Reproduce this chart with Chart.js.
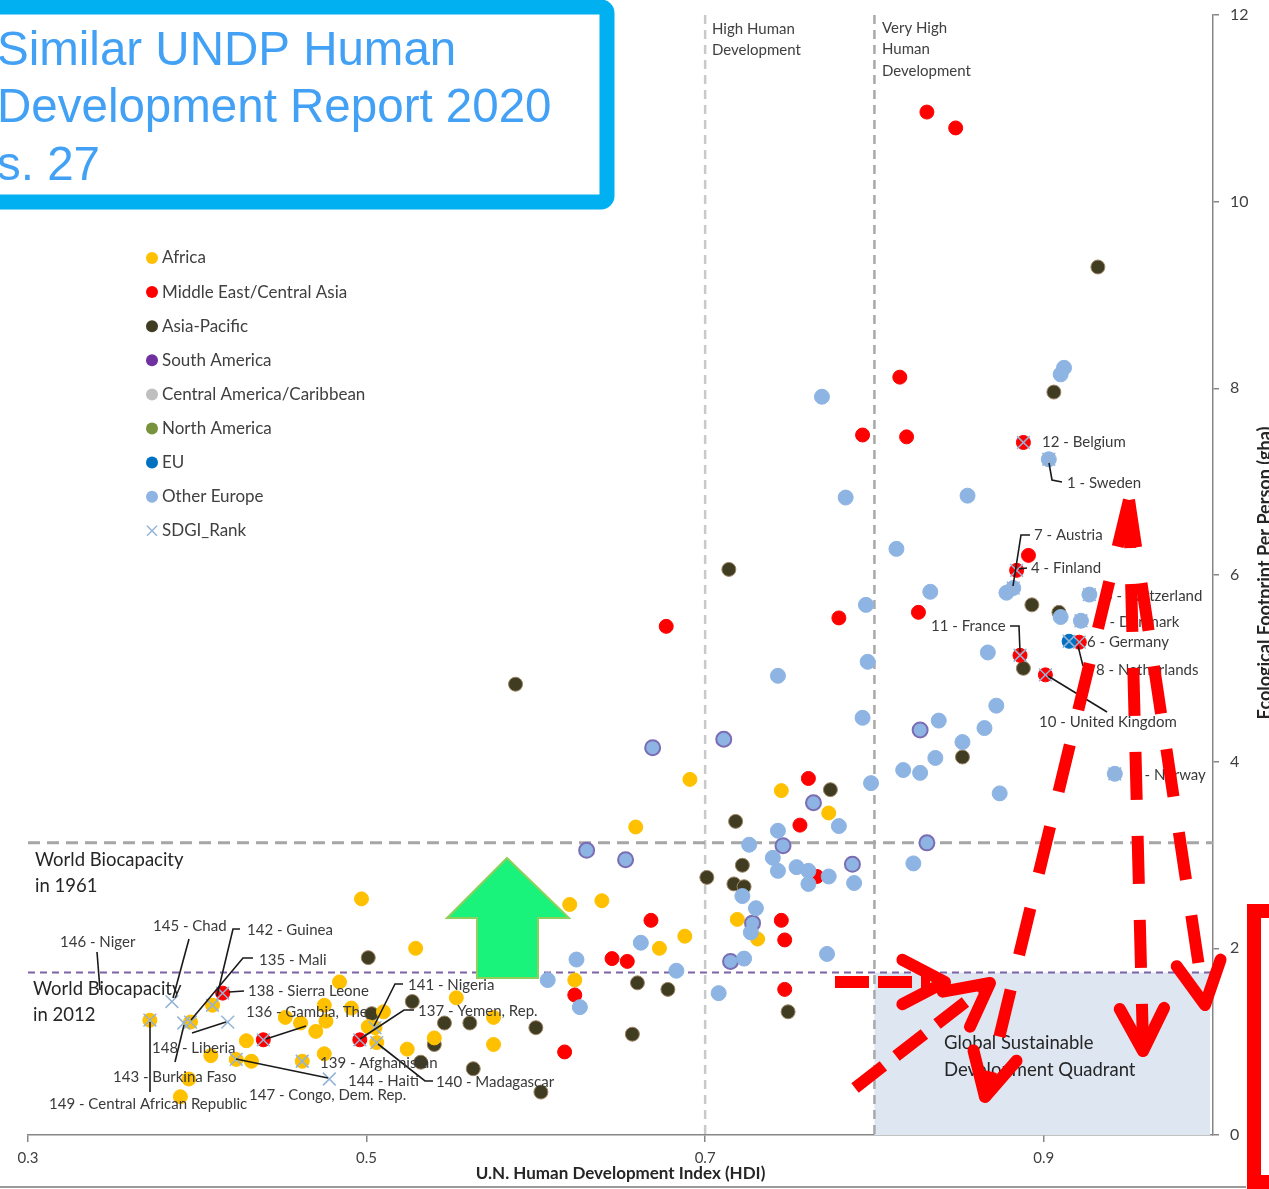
<!DOCTYPE html>
<html>
<head>
<meta charset="utf-8">
<title>Ecological Footprint vs HDI</title>
<script src="https://cdn.jsdelivr.net/npm/chart.js@4.4.1/dist/chart.umd.min.js"></script>
<style>
  html, body { margin: 0; padding: 0; background: #fff; }
  #wrap { position: relative; width: 1269px; height: 1189px; overflow: hidden; }
</style>
</head>
<body>
<div id="wrap"><canvas id="fpChart" width="1269" height="1189"></canvas></div>
<script>
// ---- data (HDI on x, ecological footprint in gha on y) ----
const xTicks = [0.3, 0.5, 0.7, 0.9];
const yTicks = [0, 2, 4, 6, 8, 10, 12];

const regions = ['Africa', 'Middle East/Central Asia', 'Asia-Pacific', 'South America',
    'Central America/Caribbean', 'North America', 'EU', 'Other Europe', 'SDGI_Rank'];

const africaHdi = [0.691, 0.659, 0.745, 0.773, 0.497, 0.620, 0.639, 0.529, 0.688, 0.673, 0.719, 0.731, 0.623, 0.484, 0.553, 0.475, 0.491, 0.510, 0.452, 0.461, 0.476, 0.575, 0.501, 0.470, 0.540, 0.575, 0.524, 0.429, 0.408, 0.432, 0.475, 0.395, 0.390, 0.372, 0.396, 0.409, 0.423, 0.462, 0.505, 0.506];
const africaGha = [3.81, 3.30, 3.69, 3.45, 2.53, 2.47, 2.51, 2.00, 2.13, 2.00, 2.31, 2.10, 1.66, 1.64, 1.47, 1.39, 1.36, 1.32, 1.26, 1.20, 1.22, 1.26, 1.16, 1.11, 1.04, 0.97, 0.92, 1.01, 0.85, 0.79, 0.87, 0.60, 0.41, 1.23, 1.21, 1.39, 0.81, 0.79, 1.15, 0.99];

const meHdi = [0.831, 0.848, 0.815, 0.793, 0.819, 0.891, 0.779, 0.826, 0.677, 0.761, 0.756, 0.766, 0.668, 0.745, 0.747, 0.645, 0.654, 0.747, 0.623, 0.617, 0.888, 0.884, 0.921, 0.886, 0.901, 0.415, 0.439, 0.496];
const meGha = [10.96, 10.79, 8.12, 7.50, 7.48, 6.21, 5.54, 5.60, 5.45, 3.82, 3.32, 2.77, 2.30, 2.30, 2.09, 1.89, 1.86, 1.56, 1.50, 0.89, 7.42, 6.05, 5.28, 5.14, 4.93, 1.52, 1.02, 1.02];

const asiaHdi = [0.932, 0.906, 0.714, 0.893, 0.909, 0.888, 0.588, 0.852, 0.774, 0.718, 0.722, 0.701, 0.717, 0.723, 0.501, 0.660, 0.678, 0.749, 0.657, 0.527, 0.503, 0.546, 0.561, 0.600, 0.540, 0.532, 0.563, 0.603];
const asiaGha = [9.30, 7.96, 6.06, 5.68, 5.60, 5.00, 4.83, 4.05, 3.70, 3.36, 2.89, 2.76, 2.69, 2.66, 1.90, 1.63, 1.56, 1.32, 1.08, 1.43, 1.30, 1.20, 1.20, 1.15, 0.97, 0.78, 0.71, 0.46];

const euHdi = [0.915];
const euGha = [5.29];

const otherEuHdi = [0.912, 0.910, 0.769, 0.855, 0.783, 0.813, 0.833, 0.878, 0.795, 0.910, 0.867, 0.796, 0.743, 0.872, 0.793, 0.838, 0.865, 0.852, 0.836, 0.817, 0.827, 0.798, 0.874, 0.779, 0.743, 0.726, 0.740, 0.823, 0.754, 0.761, 0.743, 0.761, 0.773, 0.788, 0.722, 0.730, 0.727, 0.662, 0.723, 0.772, 0.624, 0.683, 0.607, 0.626, 0.708, 0.903, 0.882, 0.927, 0.922, 0.942];
const otherEuGha = [8.22, 8.15, 7.91, 6.85, 6.83, 6.28, 5.82, 5.81, 5.68, 5.55, 5.17, 5.07, 4.92, 4.60, 4.47, 4.44, 4.36, 4.21, 4.04, 3.91, 3.88, 3.77, 3.66, 3.31, 3.26, 3.11, 2.97, 2.91, 2.87, 2.83, 2.83, 2.69, 2.77, 2.70, 2.56, 2.43, 2.17, 2.06, 1.89, 1.94, 1.88, 1.76, 1.66, 1.37, 1.52, 7.24, 5.86, 5.79, 5.51, 3.87];

// light blue points drawn with a purple rim in the original
const rimmedHdi = [0.630, 0.653, 0.669, 0.711, 0.746, 0.764, 0.787, 0.827, 0.831, 0.715, 0.728];
const rimmedGha = [3.05, 2.95, 4.15, 4.24, 3.10, 3.56, 2.90, 4.34, 3.13, 1.86, 2.27];

const sdgiHdi = [0.888, 0.903, 0.882, 0.884, 0.927, 0.922, 0.915, 0.921, 0.886, 0.901, 0.942, 0.385, 0.392, 0.418, 0.478, 0.372, 0.396, 0.409, 0.423, 0.462, 0.505, 0.506, 0.415, 0.439, 0.496];
const sdgiGha = [7.42, 7.24, 5.86, 6.05, 5.79, 5.51, 5.29, 5.28, 5.14, 4.93, 3.87, 1.43, 1.20, 1.21, 0.60, 1.23, 1.21, 1.39, 0.81, 0.79, 1.15, 0.99, 1.52, 1.02, 1.02];

const hdiBands = [0.7, 0.8];
const bioCap1961 = 3.13;
const bioCap2012 = 1.74;

// ---- annotation text (pixel positions on the slide) ----
const countryLabels = [
    ['12 - Belgium', 1042, 442], ['1 - Sweden', 1067, 483], ['7 - Austria', 1034, 535],
    ['4 - Finland', 1031, 568], ['5 - Switzerland', 1104, 596], ['3 - Denmark', 1097, 622],
    ['6 - Germany', 1087, 642], ['8 - Netherlands', 1096, 670], ['11 - France', 931, 626],
    ['10 - United Kingdom', 1039, 722], ['2 - Norway', 1132, 775],
    ['146 - Niger', 60, 942], ['145 - Chad', 153, 926], ['142 - Guinea', 247, 930],
    ['135 - Mali', 259, 960], ['138 - Sierra Leone', 248, 991], ['136 - Gambia, The', 246, 1012],
    ['141 - Nigeria', 408, 985], ['137 - Yemen, Rep.', 418, 1011], ['148 - Liberia', 152, 1048],
    ['139 - Afghanistan', 320, 1063], ['143 - Burkina Faso', 113, 1077], ['144 - Haiti', 348, 1081],
    ['140 - Madagascar', 436, 1082], ['147 - Congo, Dem. Rep.', 249, 1095],
    ['149 - Central African Republic', 49, 1104]
];
const leaders = [
    [[1049, 463], [1052, 480], [1062, 482]], [[1030, 535], [1021, 535], [1013, 586]],
    [[1027, 568], [1019, 569]], [[1078, 646], [1083, 666]], [[1010, 626], [1019, 626], [1020, 652]],
    [[1048, 676], [1107, 712]], [[97, 952], [100, 990]], [[189, 939], [173, 998]],
    [[240, 929], [233, 929], [217, 996]], [[253, 958], [243, 958], [191, 1020]],
    [[244, 991], [229, 992]], [[306, 1026], [266, 1039]], [[192, 1033], [226, 1022]],
    [[175, 1062], [184, 1025]], [[150, 1092], [150, 1022]], [[236, 1059], [328, 1078]],
    [[403, 984], [395, 984], [374, 1026]], [[414, 1010], [404, 1010], [360, 1039]],
    [[378, 1044], [425, 1081], [433, 1081]]
];

function pts(xs, ys) {
    return xs.map((v, i) => ({ x: v, y: ys[i] }));
}

function polyline(ctx, p) {
    ctx.beginPath();
    p.forEach(([px, py], i) => i ? ctx.lineTo(px, py) : ctx.moveTo(px, py));
    ctx.stroke();
}

function arrowHead(ctx, from, tip, len, ang) {
    const dx = tip[0] - from[0], dy = tip[1] - from[1];
    const d = Math.hypot(dx, dy), ux = dx / d, uy = dy / d;
    const barbs = [ang, -ang].map(a => {
        const c = Math.cos(a), s = Math.sin(a);
        return [tip[0] - len * (ux * c - uy * s), tip[1] - len * (ux * s + uy * c)];
    });
    ctx.setLineDash([]);
    ctx.lineCap = 'round';
    ctx.lineJoin = 'round';
    polyline(ctx, [barbs[0], tip, barbs[1]]);
}

const overlay = {
    id: 'overlay',
    beforeDatasetsDraw(chart) {
        const { ctx, chartArea: a, scales: { x, y } } = chart;
        ctx.save();
        // global sustainable development quadrant
        const qx = x.getPixelForValue(hdiBands[1]), qy = y.getPixelForValue(bioCap2012);
        ctx.fillStyle = '#dde6f1';
        ctx.fillRect(qx, qy, a.right - 3 - qx, a.bottom - qy);

        ctx.lineCap = 'butt';
        ctx.lineWidth = 2.5;
        ctx.setLineDash([9, 6]);
        ctx.strokeStyle = '#c9c9c9';
        polyline(ctx, [[x.getPixelForValue(hdiBands[0]), a.top], [x.getPixelForValue(hdiBands[0]), a.bottom]]);
        ctx.strokeStyle = '#a9a9a9';
        polyline(ctx, [[qx, a.top], [qx, a.bottom]]);

        ctx.lineWidth = 3;
        ctx.setLineDash([12, 7]);
        ctx.strokeStyle = '#a6a6a6';
        const y61 = y.getPixelForValue(bioCap1961);
        polyline(ctx, [[a.left, y61], [a.right, y61]]);

        ctx.lineWidth = 2;
        ctx.setLineDash([7, 5]);
        ctx.strokeStyle = '#7d62a8';
        polyline(ctx, [[a.left, qy], [a.right, qy]]);
        ctx.restore();
    },
    afterDatasetsDraw(chart) {
        const { ctx } = chart;
        ctx.save();
        ctx.fillStyle = '#404040';
        ctx.textBaseline = 'middle';
        ctx.font = '15px Lato';
        [['High Human', 712, 29], ['Development', 712, 50],
         ['Very High', 882, 28], ['Human', 882, 49], ['Development', 882, 71]]
            .forEach(([t, px, py]) => ctx.fillText(t, px, py));

        ctx.fillStyle = '#262626';
        ctx.font = '18.5px Lato';
        [['World Biocapacity', 35, 860], ['in 1961', 35, 886],
         ['World Biocapacity', 33, 989], ['in 2012', 33, 1015]]
            .forEach(([t, px, py]) => ctx.fillText(t, px, py));
        ctx.font = '18.5px Lato';
        ctx.fillText('Global Sustainable', 944, 1043);
        ctx.fillText('Development Quadrant', 944, 1070);

        ctx.strokeStyle = '#1a1a1a';
        ctx.lineWidth = 1.6;
        leaders.forEach(l => polyline(ctx, l));
        ctx.fillStyle = '#3a3a3a';
        ctx.font = '15px Lato';
        countryLabels.forEach(([t, px, py]) => ctx.fillText(t, px, py));
        ctx.restore();
    },
    afterDraw(chart) {
        const { ctx } = chart;
        ctx.save();

        // y axis title (clipped at the slide edge)
        ctx.translate(1256, 573);
        ctx.rotate(-Math.PI / 2);
        ctx.font = 'bold 18px Lato';
        ctx.fillStyle = '#262626';
        ctx.textAlign = 'center';
        ctx.textBaseline = 'top';
        ctx.fillText('Ecological Footprint Per Person (gha)', 0, 0);
        ctx.setTransform(1, 0, 0, 1, 0, 0);

        // legend
        const colors = ['#ffc000', '#ff0000', '#3f3c22', '#7030a0', '#bfbfbf', '#77933c', '#0070c0', '#8db4e2'];
        ctx.font = '17px Lato';
        ctx.textAlign = 'left';
        ctx.textBaseline = 'middle';
        regions.forEach((r, i) => {
            const ly = 258 + i * 34.1;
            if (i < colors.length) {
                ctx.fillStyle = colors[i];
                ctx.beginPath();
                ctx.arc(152, ly, 6, 0, Math.PI * 2);
                ctx.fill();
            } else {
                ctx.strokeStyle = '#95b3d7';
                ctx.lineWidth = 1.5;
                polyline(ctx, [[147, ly - 5], [157, ly + 5]]);
                polyline(ctx, [[147, ly + 5], [157, ly - 5]]);
            }
            ctx.fillStyle = '#404040';
            ctx.fillText(r, 162, ly);
        });

        // green arrow
        ctx.beginPath();
        [[507, 858], [569, 918], [538, 918], [538, 978], [477, 978], [477, 918], [447, 918]]
            .forEach(([px, py], i) => i ? ctx.lineTo(px, py) : ctx.moveTo(px, py));
        ctx.closePath();
        ctx.fillStyle = '#19f27b';
        ctx.fill();
        ctx.strokeStyle = '#8fd05c';
        ctx.lineWidth = 2;
        ctx.stroke();

        // red dashed arrows
        ctx.strokeStyle = '#ff0000';
        ctx.lineWidth = 12;
        const redArrows = [
            { from: [835, 982], to: [930, 982], tip: [945, 982], dash: [34, 9] },
            { from: [855, 1088], to: [982, 989], tip: [990, 983], dash: [36, 16] },
            { from: [1129, 500], to: [986, 1092], tip: [985, 1097], dash: [48, 36] },
            { from: [1129, 500], to: [1143, 1046], tip: [1143, 1051], dash: [48, 36] },
            { from: [1129, 500], to: [1204, 1000], tip: [1205, 1005], dash: [48, 36] }
        ];
        redArrows.forEach(ar => {
            ctx.setLineDash(ar.dash);
            ctx.lineCap = 'butt';
            polyline(ctx, [ar.from, ar.to]);
            arrowHead(ctx, ar.from, ar.tip, 48, 0.48);
        });

        // red bracket on the right
        ctx.setLineDash([]);
        ctx.lineCap = 'butt';
        ctx.lineJoin = 'miter';
        ctx.lineWidth = 14;
        polyline(ctx, [[1272, 911], [1254, 911], [1254, 1182], [1272, 1182]]);

        // slide frame line
        ctx.strokeStyle = '#9a9a9a';
        ctx.lineWidth = 2;
        polyline(ctx, [[0, 1187], [1246, 1187]]);

        // title box
        ctx.fillStyle = '#ffffff';
        ctx.beginPath();
        ctx.roundRect(-30, 7, 637, 195, 6);
        ctx.fill();
        ctx.strokeStyle = '#00b0f0';
        ctx.lineWidth = 15;
        ctx.stroke();
        ctx.fillStyle = '#42a1f5';
        ctx.font = '47.5px "Liberation Sans"';
        ctx.textBaseline = 'alphabetic';
        ctx.fillText('Similar UNDP Human', -3, 65);
        ctx.fillText('Development Report 2020', -3, 122);
        ctx.fillText('s. 27', -3, 180);
        ctx.restore();
    }
};

const ctx = document.getElementById('fpChart');
new Chart(ctx, {
    type: 'scatter',
    data: {
        datasets: [
            {
                label: 'SDGI_Rank', data: pts(sdgiHdi, sdgiGha), pointStyle: 'crossRot',
                radius: 9, borderColor: '#95b3d7', borderWidth: 1.5, backgroundColor: 'transparent'
            },
            {
                label: 'EU', data: pts(euHdi, euGha), radius: 7,
                backgroundColor: '#0070c0', borderColor: '#0070c0'
            },
            {
                label: 'Other Europe', data: pts(otherEuHdi, otherEuGha), radius: 7.5,
                backgroundColor: '#8db4e2', borderColor: '#8db4e2'
            },
            {
                label: 'Other Europe (rimmed)', data: pts(rimmedHdi, rimmedGha), radius: 7.5,
                backgroundColor: '#8db4e2', borderColor: '#7b6db3', borderWidth: 2
            },
            {
                label: 'Middle East/Central Asia', data: pts(meHdi, meGha), radius: 7,
                backgroundColor: '#ff0000', borderColor: '#ff0000'
            },
            {
                label: 'Africa', data: pts(africaHdi, africaGha), radius: 7,
                backgroundColor: '#ffc000', borderColor: '#ffc000'
            },
            {
                label: 'Asia-Pacific', data: pts(asiaHdi, asiaGha), radius: 7,
                backgroundColor: '#3f3c22', borderColor: '#9c8466', borderWidth: 1
            }
        ]
    },
    options: {
        responsive: false,
        animation: false,
        events: [],
        layout: { padding: { left: 28, top: 15, right: 0, bottom: 0 } },
        plugins: {
            legend: { display: false },
            tooltip: { enabled: false }
        },
        scales: {
            x: {
                type: 'linear',
                min: 0.3,
                max: 1.0,
                afterBuildTicks: s => { s.ticks = xTicks.map(v => ({ value: v })); },
                afterFit: s => { s.height = 54; s.paddingLeft = 0; s.paddingRight = 0; },
                ticks: {
                    font: { family: 'Lato', size: 15 },
                    color: '#404040',
                    padding: 7,
                    callback: v => v.toFixed(1)
                },
                grid: { drawOnChartArea: false, tickLength: 7, color: '#868686', lineWidth: 1.5 },
                border: { color: '#868686', width: 1.5 },
                title: {
                    display: true,
                    text: 'U.N. Human Development Index (HDI)',
                    font: { family: 'Lato', size: 17, weight: 'bold' },
                    color: '#262626',
                    padding: { top: 0, bottom: 5 }
                }
            },
            y: {
                type: 'linear',
                position: 'right',
                min: 0,
                max: 12,
                afterBuildTicks: s => { s.ticks = yTicks.map(v => ({ value: v })); },
                afterFit: s => { s.width = 56; s.paddingTop = 0; s.paddingBottom = 0; },
                ticks: {
                    font: { family: 'Lato', size: 16 },
                    color: '#404040',
                    padding: 11
                },
                grid: { drawOnChartArea: false, tickLength: 6, color: '#868686', lineWidth: 1.5 },
                border: { color: '#868686', width: 1.5 }
            }
        }
    },
    plugins: [overlay]
});
</script>
</body>
</html>
